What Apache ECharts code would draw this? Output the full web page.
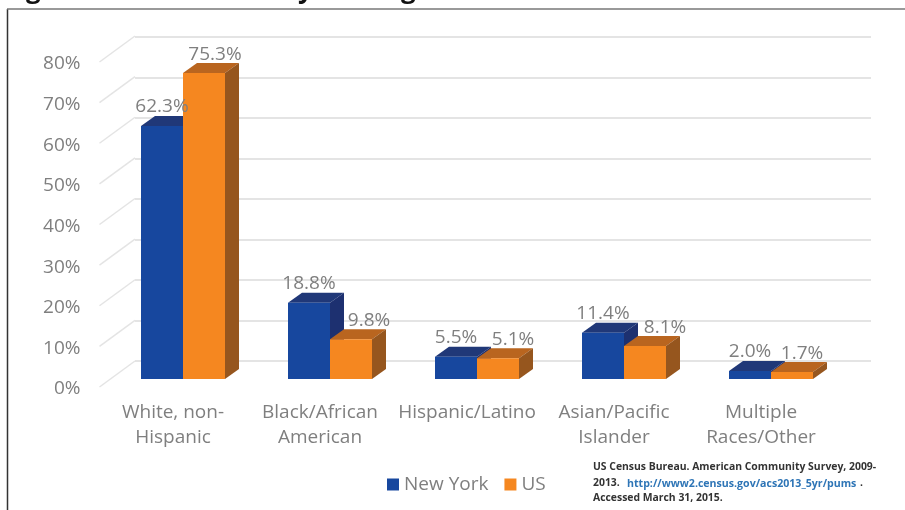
<!DOCTYPE html>
<html>
<head>
<meta charset="utf-8">
<style>
  html, body { margin: 0; padding: 0; background: #fff; }
  #main { width: 905px; height: 510px; filter: blur(0.6px); }
</style>
<script src="https://cdn.jsdelivr.net/npm/echarts@6/dist/echarts.min.js"></script>
</head>
<body>
<div id="main"></div>
<script>
const categories = ['White, non-\nHispanic', 'Black/African\nAmerican', 'Hispanic/Latino', 'Asian/Pacific\nIslander', 'Multiple\nRaces/Other'];
const newYork = [62.3, 18.8, 5.5, 11.4, 2.0];
const us = [75.3, 9.8, 5.1, 8.1, 1.7];
const yTicks = [0, 10, 20, 30, 40, 50, 60, 70, 80];

// sideways nudges of the US labels, they sit off the bar in the original
const usLabelNudge = [11, 18, 15, 20, 10];

const FONT = '"Open Sans", sans-serif';
const GREY = '#7f7f7f';
const NOTE_FONT = 'bold 10.4px "Open Sans", sans-serif';
const BAR_W = 42;
const DEPTH_X = 14;
const DEPTH_Y = 10;
const BLUE = {front: '#17479e', top: '#203878', side: '#1d3070'};
const ORANGE = {front: '#f58720', top: '#b9651f', side: '#96561e'};

const chart = echarts.init(document.getElementById('main'), null, {renderer: 'canvas'});

function box(x, y0, y1, w, c) {
    return [
        {type: 'polygon', shape: {points: [[x, y1], [x + DEPTH_X, y1 - DEPTH_Y], [x + w + DEPTH_X, y1 - DEPTH_Y], [x + w, y1]]}, style: {fill: c.top}},
        {type: 'polygon', shape: {points: [[x + w, y1], [x + w + DEPTH_X, y1 - DEPTH_Y], [x + w + DEPTH_X, y0 - DEPTH_Y], [x + w, y0]]}, style: {fill: c.side}},
        {type: 'rect', shape: {x: x, y: y1, width: w, height: y0 - y1}, style: {fill: c.front}}
    ];
}

// side: 0 is the left bar of a group, 1 the right one
function barSeries(name, values, colors, side) {
    return {
        name: name,
        type: 'custom',
        xAxisIndex: 2,
        yAxisIndex: 2,
        z: 3 + side,
        itemStyle: {color: colors.front},
        data: values.map((v, i) => [i, v]),
        renderItem: function (params, api) {
            const bottom = api.coord([api.value(0), 0]);
            const top = api.coord([api.value(0), api.value(1)]);
            const x = bottom[0] + (side - 1) * BAR_W;
            return {type: 'group', children: box(x, bottom[1], top[1], BAR_W, colors)};
        }
    };
}

// labels go in their own series so the 62.3% stays on top of the orange bar
function labelSeries(values, side, nudge) {
    return {
        type: 'custom',
        xAxisIndex: 2,
        yAxisIndex: 2,
        silent: true,
        z: 6,
        data: values.map((v, i) => [i, v]),
        renderItem: function (params, api) {
            const top = api.coord([api.value(0), api.value(1)]);
            const shift = nudge ? nudge[api.value(0)] : 0;
            return {
                type: 'text',
                style: {
                    text: api.value(1).toFixed(1) + '%',
                    x: top[0] + (side - 1) * BAR_W + BAR_W / 2 + shift,
                    y: top[1] - DEPTH_Y - 9,
                    align: 'center',
                    verticalAlign: 'middle',
                    fill: GREY,
                    font: '19px ' + FONT
                }
            };
        }
    };
}

chart.setOption({
    animation: false,
    backgroundColor: '#fff',
    textStyle: {fontFamily: FONT},
    grid: [
        // front plane, holds the axis labels
        {left: 99.5, width: 735, top: 64, height: 325},
        // back wall, holds the gridlines
        {left: 135, width: 736, top: 37, height: 324},
        // plane of the bars
        {left: 109.5, width: 735, top: 54, height: 325}
    ],
    xAxis: [
        {gridIndex: 0, type: 'category', data: categories, axisLine: {show: false}, axisTick: {show: false},
            axisLabel: {color: GREY, fontSize: 19, lineHeight: 25, margin: 11, interval: 0, fontFamily: FONT}},
        {gridIndex: 1, type: 'category', data: categories, show: false},
        {gridIndex: 2, type: 'category', data: categories, show: false}
    ],
    yAxis: [
        {gridIndex: 0, type: 'value', min: 0, max: 80, interval: 10, axisLine: {show: false}, axisTick: {show: false}, splitLine: {show: false},
            axisLabel: {color: GREY, fontSize: 19, margin: 19, fontFamily: FONT, formatter: '{value}%'}},
        {gridIndex: 1, type: 'value', min: 0, max: 80, interval: 10, axisLine: {show: false}, axisTick: {show: false}, axisLabel: {show: false},
            splitLine: {show: true, lineStyle: {color: '#e4e4e4', width: 2}}},
        {gridIndex: 2, type: 'value', min: 0, max: 80, interval: 10, show: false}
    ],
    legend: {
        left: 382, top: 470, itemWidth: 12, itemHeight: 12, itemGap: 16, icon: 'rect',
        textStyle: {color: GREY, fontSize: 19, fontFamily: FONT},
        data: ['New York', 'US']
    },
    series: [
        {
            // slanted lines running from the labels back to the wall
            type: 'custom',
            xAxisIndex: 0,
            yAxisIndex: 0,
            silent: true,
            z: 1,
            data: yTicks.map((t) => [t]),
            renderItem: function (params, api) {
                const p = api.coord([0, api.value(0)]);
                const x = params.coordSys.x;
                return {
                    type: 'line',
                    shape: {x1: x, y1: p[1] - 2, x2: x + 35.5, y2: p[1] - 28},
                    style: {stroke: '#e4e4e4', lineWidth: 1.5}
                };
            }
        },
        barSeries('New York', newYork, BLUE, 0),
        barSeries('US', us, ORANGE, 1),
        labelSeries(newYork, 0),
        labelSeries(us, 1, usLabelNudge)
    ],
    graphic: [
        // frame of the figure box, only top and left survive the crop
        {type: 'line', shape: {x1: 7.5, y1: 9, x2: 7.5, y2: 510}, style: {stroke: '#333', lineWidth: 1.5}, z: 10},
        {type: 'line', shape: {x1: 7, y1: 9, x2: 905, y2: 9}, style: {stroke: '#777', lineWidth: 1.5}, z: 10},
        // what is left of the cropped heading: only these descenders show
        {type: 'text', x: 26, y: -22, style: {text: 'g', fill: '#111', font: 'bold 26px "Open Sans", sans-serif'}},
        {type: 'text', x: 298, y: -22, style: {text: 'y', fill: '#111', font: 'bold 26px "Open Sans", sans-serif'}},
        {type: 'text', x: 401, y: -22, style: {text: 'g', fill: '#111', font: 'bold 26px "Open Sans", sans-serif'}},
        {type: 'text', x: 593, y: 462, style: {
            text: 'US Census Bureau. American Community Survey, 2009-',
            fill: '#333', font: NOTE_FONT}},
        {type: 'text', x: 593, y: 478, style: {
            text: '2013.',
            fill: '#333', font: NOTE_FONT}},
        {type: 'text', x: 627, y: 478, style: {
            text: 'http://www2.census.gov/acs2013_5yr/pums',
            fill: '#2e75b6', font: 'bold 10.6px "Open Sans", sans-serif'}},
        {type: 'text', x: 860, y: 478, style: {
            text: '.',
            fill: '#333', font: NOTE_FONT}},
        {type: 'text', x: 593, y: 493, style: {
            text: 'Accessed March 31, 2015.',
            fill: '#333', font: NOTE_FONT}}
    ]
});
</script>
</body>
</html>
